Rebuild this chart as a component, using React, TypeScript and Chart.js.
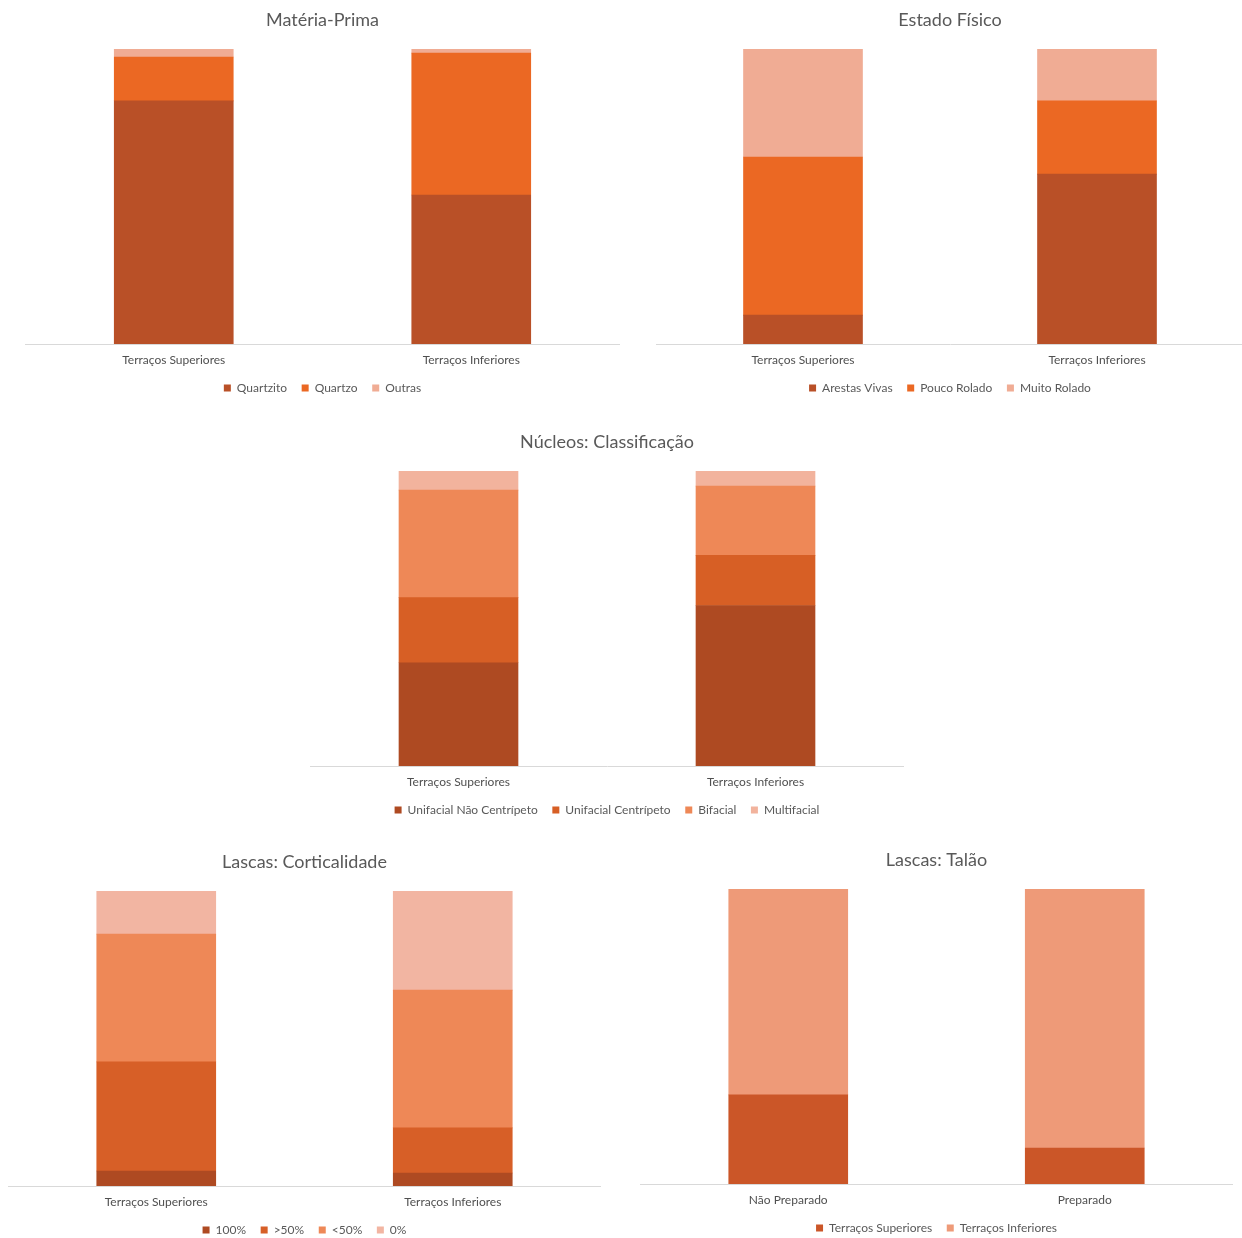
import React, { useEffect, useRef } from "react";
import { Chart, registerables } from "chart.js";

Chart.register(...registerables);

const terracoCategories = ["Terraços Superiores", "Terraços Inferiores"];
const talaoCategories = ["Não Preparado", "Preparado"];

const quartzito = [82.4, 50.5];
const quartzo = [14.9, 48.1];
const outras = [2.7, 1.4];

const arestasVivas = [9.8, 57.6];
const poucoRolado = [53.6, 24.8];
const muitoRolado = [36.6, 17.6];

const unifacialNaoCentripeto = [35.0, 54.4];
const unifacialCentripeto = [22.1, 17.0];
const bifacial = [36.4, 23.5];
const multifacial = [6.5, 5.1];

const cortex100 = [5.1, 4.4];
const cortexMais50 = [37.0, 15.3];
const cortexMenos50 = [43.3, 46.7];
const cortex0 = [14.6, 33.6];

const talaoSuperiores = [30.2, 12.2];
const talaoInferiores = [69.8, 87.8];

const FONT = "Lato, 'Open Sans', sans-serif";

type Series = { label: string; data: number[]; color: string };

type ChartProps = {
  left: number;
  top: number;
  width: number;
  title: string;
  labels: string[];
  series: Series[];
};

const HEIGHT = 406;

function StackedChart({ left, top, width, title, labels, series }: ChartProps) {
  const ref = useRef<HTMLCanvasElement | null>(null);
  useEffect(() => {
    if (!ref.current) return;
    const chart = new Chart(ref.current, {
      type: "bar",
      data: {
        labels,
        datasets: series.map((s) => ({
          label: s.label,
          data: s.data,
          backgroundColor: s.color,
          borderWidth: 0,
          barThickness: 119,
        })),
      },
      options: {
        animation: false,
        responsive: false,
        maintainAspectRatio: false,
        layout: { padding: 0 },
        plugins: {
          title: {
            display: true,
            text: title,
            color: "#595959",
            font: { family: FONT, size: 18, weight: "normal" },
            padding: { top: 11, bottom: 18.4 },
          },
          legend: {
            display: true,
            position: "bottom",
            labels: {
              boxWidth: 7,
              boxHeight: 7,
              padding: 14.6,
              color: "#595959",
              font: { family: FONT, size: 12 },
            },
          },
          tooltip: { enabled: false },
        },
        scales: {
          x: {
            stacked: true,
            grid: { display: false, drawTicks: false },
            border: { display: true, color: "#d9d9d9", width: 1 },
            ticks: {
              padding: 9,
              color: "#505050",
              font: { family: FONT, size: 12 },
            },
            afterFit: (scale: any) => {
              scale.height = scale.height - 9;
            },
          },
          y: {
            stacked: true,
            display: false,
            min: 0,
            max: 100,
          },
        },
      },
    });
    return () => chart.destroy();
  }, []);
  return (
    <canvas
      ref={ref}
      width={width}
      height={HEIGHT}
      style={{ position: "absolute", left, top, width, height: HEIGHT }}
    />
  );
}

export default function App() {
  return (
    <div
      style={{
        position: "absolute",
        left: 0,
        top: 0,
        width: 1242,
        height: 1238,
        overflow: "hidden",
        background: "#ffffff",
      }}
    >
      <StackedChart
        left={25}
        top={-2}
        width={595}
        title="Matéria-Prima"
        labels={terracoCategories}
        series={[
          { label: "Quartzito", data: quartzito, color: "#B95027" },
          { label: "Quartzo", data: quartzo, color: "#EB6823" },
          { label: "Outras", data: outras, color: "#F0AC94" },
        ]}
      />
      <StackedChart
        left={656}
        top={-2}
        width={588}
        title="Estado Físico"
        labels={terracoCategories}
        series={[
          { label: "Arestas Vivas", data: arestasVivas, color: "#B95027" },
          { label: "Pouco Rolado", data: poucoRolado, color: "#EB6823" },
          { label: "Muito Rolado", data: muitoRolado, color: "#F0AC94" },
        ]}
      />
      <StackedChart
        left={310}
        top={420}
        width={594}
        title="Núcleos: Classificação"
        labels={terracoCategories}
        series={[
          { label: "Unifacial Não Centrípeto", data: unifacialNaoCentripeto, color: "#AE4A22" },
          { label: "Unifacial Centrípeto", data: unifacialCentripeto, color: "#D75F25" },
          { label: "Bifacial", data: bifacial, color: "#EE8857" },
          { label: "Multifacial", data: multifacial, color: "#F2B39D" },
        ]}
      />
      <StackedChart
        left={8}
        top={840}
        width={593}
        title="Lascas: Corticalidade"
        labels={terracoCategories}
        series={[
          { label: "100%", data: cortex100, color: "#AE4A22" },
          { label: ">50%", data: cortexMais50, color: "#D75F27" },
          { label: "<50%", data: cortexMenos50, color: "#EE8857" },
          { label: "0%", data: cortex0, color: "#F2B5A2" },
        ]}
      />
      <StackedChart
        left={640}
        top={838}
        width={593}
        title="Lascas: Talão"
        labels={talaoCategories}
        series={[
          { label: "Terraços Superiores", data: talaoSuperiores, color: "#CB5628" },
          { label: "Terraços Inferiores", data: talaoInferiores, color: "#EE9A78" },
        ]}
      />
    </div>
  );
}
